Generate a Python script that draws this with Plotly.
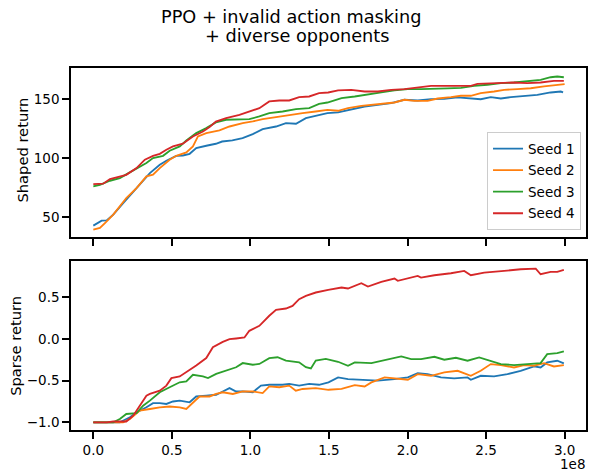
import plotly.graph_objects as go
from plotly.subplots import make_subplots

# Training progress (environment steps, in units of 1e8) and returns per seed
seeds = ["Seed 1", "Seed 2", "Seed 3", "Seed 4"]
colors = ["#1f77b4", "#ff7f0e", "#2ca02c", "#d62728"]

shaped_x1 = [0, 0.053, 0.085, 0.127, 0.19, 0.275, 0.36, 0.423, 0.465, 0.528, 0.57, 0.613, 0.655, 0.719, 0.78,
             0.82, 0.885, 0.95, 1.015, 1.078, 1.163, 1.226, 1.29, 1.353, 1.415, 1.49, 1.558, 1.642, 1.727, 1.811,
             1.896, 1.98, 2.065, 2.15, 2.234, 2.319, 2.403, 2.466, 2.53, 2.594, 2.657, 2.742, 2.826, 2.911, 2.975,
             2.99]
shaped_y1 = [42.9, 47.1, 47.4, 52.2, 62.0, 74.7, 87.4, 94.4, 97.8, 102.0, 102.3, 103.7, 108.5, 110.5, 112.2,
             114.1, 115.0, 117.0, 120.4, 124.6, 126.8, 129.7, 129.1, 133.9, 135.9, 138.1, 138.7, 141.5, 143.7,
             145.1, 146.6, 149.4, 148.8, 149.9, 150.2, 151.4, 150.8, 149.9, 151.6, 150.5, 151.6, 152.8, 153.6,
             155.6, 156.4, 155.6]

shaped_x2 = [0, 0.042, 0.074, 0.127, 0.21, 0.275, 0.338, 0.38, 0.423, 0.486, 0.528, 0.592, 0.634, 0.666, 0.719,
             0.803, 0.867, 0.951, 1.015, 1.078, 1.163, 1.247, 1.332, 1.415, 1.49, 1.558, 1.621, 1.706, 1.811,
             1.917, 1.98, 2.044, 2.128, 2.192, 2.276, 2.34, 2.403, 2.466, 2.551, 2.615, 2.699, 2.784, 2.869,
             2.953, 3.0]
shaped_y2 = [39.5, 40.9, 45.1, 52.2, 66.3, 74.7, 84.6, 86.0, 91.6, 98.7, 102.0, 104.9, 109.9, 118.4, 121.2,
             123.5, 126.8, 129.7, 131.1, 133.0, 134.7, 136.7, 138.1, 139.5, 140.9, 140.1, 142.3, 144.3, 146.0,
             147.1, 149.4, 148.5, 148.5, 150.5, 151.6, 152.8, 152.8, 155.0, 156.4, 157.8, 158.4, 159.2, 160.7,
             162.1, 162.6]

shaped_x3 = [0, 0.042, 0.106, 0.169, 0.232, 0.296, 0.338, 0.38, 0.444, 0.486, 0.55, 0.592, 0.655, 0.719, 0.78,
             0.845, 0.93, 0.993, 1.057, 1.12, 1.205, 1.29, 1.374, 1.437, 1.49, 1.58, 1.664, 1.749, 1.833, 1.917,
             2.002, 2.086, 2.17, 2.255, 2.34, 2.424, 2.509, 2.594, 2.678, 2.763, 2.847, 2.911, 2.953, 2.995]
shaped_y3 = [76.1, 77.5, 80.9, 83.2, 88.0, 93.0, 95.9, 100.1, 102.0, 106.3, 109.9, 115.0, 121.2, 125.4, 130.2,
             132.5, 132.5, 133.0, 135.3, 138.1, 139.5, 141.5, 142.3, 146.0, 147.1, 150.8, 152.2, 153.6, 155.6,
             157.3, 158.4, 158.4, 158.4, 159.0, 159.5, 161.2, 162.1, 163.5, 164.0, 165.2, 166.3, 168.5, 169.1,
             168.5]

shaped_x4 = [0, 0.063, 0.106, 0.169, 0.21, 0.275, 0.328, 0.38, 0.423, 0.465, 0.507, 0.57, 0.634, 0.698, 0.74,
             0.78, 0.845, 0.93, 0.993, 1.057, 1.12, 1.184, 1.247, 1.31, 1.374, 1.437, 1.495, 1.558, 1.642, 1.727,
             1.811, 1.896, 1.98, 2.065, 2.15, 2.234, 2.319, 2.403, 2.445, 2.53, 2.615, 2.678, 2.763, 2.847,
             2.932, 2.995]
shaped_y4 = [78.1, 78.4, 82.3, 84.6, 85.9, 91.6, 98.7, 102.0, 103.7, 107.1, 109.9, 112.2, 118.4, 122.6, 126.3,
             131.0, 133.9, 136.7, 139.5, 142.3, 148.0, 148.8, 148.8, 151.6, 152.2, 155.0, 155.6, 157.3, 157.8,
             156.4, 156.4, 157.8, 158.4, 160.1, 161.2, 161.2, 161.2, 161.2, 162.9, 163.5, 163.5, 164.0, 163.5,
             164.0, 165.4, 165.4]

sparse_x1 = [0, 0.169, 0.233, 0.275, 0.338, 0.38, 0.423, 0.465, 0.507, 0.55, 0.613, 0.655, 0.719, 0.782, 0.824,
             0.867, 0.909, 0.951, 1.015, 1.067, 1.12, 1.205, 1.247, 1.31, 1.374, 1.437, 1.497, 1.558, 1.621,
             1.706, 1.811, 1.917, 2.002, 2.065, 2.128, 2.213, 2.297, 2.382, 2.403, 2.466, 2.551, 2.636, 2.72,
             2.805, 2.847, 2.889, 2.953, 2.995]
sparse_y1 = [-1.0, -1.0, -0.94, -0.88, -0.82, -0.77, -0.77, -0.78, -0.75, -0.74, -0.76, -0.69, -0.68, -0.67,
             -0.63, -0.59, -0.63, -0.63, -0.64, -0.56, -0.55, -0.55, -0.54, -0.56, -0.54, -0.55, -0.52, -0.462,
             -0.482, -0.49, -0.50, -0.482, -0.462, -0.41, -0.422, -0.462, -0.474, -0.462, -0.49, -0.442, -0.45,
             -0.422, -0.382, -0.33, -0.342, -0.282, -0.262, -0.294]

sparse_x2 = [0, 0.19, 0.233, 0.296, 0.36, 0.423, 0.486, 0.55, 0.592, 0.634, 0.676, 0.74, 0.782, 0.824, 0.888,
             0.951, 1.015, 1.078, 1.12, 1.184, 1.247, 1.289, 1.332, 1.416, 1.497, 1.58, 1.664, 1.727, 1.77,
             1.854, 1.917, 2.002, 2.065, 2.15, 2.234, 2.319, 2.403, 2.466, 2.53, 2.594, 2.678, 2.742, 2.805,
             2.869, 2.932, 2.995]
sparse_y2 = [-1.0, -1.0, -0.96, -0.86, -0.84, -0.82, -0.81, -0.82, -0.84, -0.76, -0.69, -0.69, -0.66, -0.64,
             -0.66, -0.63, -0.63, -0.65, -0.57, -0.58, -0.56, -0.62, -0.60, -0.59, -0.61, -0.60, -0.554, -0.57,
             -0.522, -0.462, -0.474, -0.49, -0.422, -0.442, -0.402, -0.382, -0.442, -0.382, -0.302, -0.314,
             -0.342, -0.314, -0.322, -0.29, -0.33, -0.314]

sparse_x3 = [0, 0.127, 0.169, 0.21, 0.275, 0.317, 0.36, 0.423, 0.486, 0.55, 0.592, 0.634, 0.698, 0.73, 0.782,
             0.845, 0.909, 0.951, 1.015, 1.057, 1.12, 1.173, 1.226, 1.31, 1.353, 1.385, 1.416, 1.48, 1.558,
             1.621, 1.664, 1.77, 1.875, 1.96, 2.023, 2.086, 2.171, 2.234, 2.308, 2.382, 2.456, 2.53, 2.594,
             2.678, 2.763, 2.847, 2.889, 2.953, 2.995]
sparse_y3 = [-1.0, -1.0, -0.96, -0.90, -0.89, -0.80, -0.74, -0.64, -0.58, -0.52, -0.51, -0.43, -0.45, -0.47,
             -0.42, -0.38, -0.34, -0.29, -0.31, -0.30, -0.23, -0.22, -0.26, -0.28, -0.34, -0.354, -0.26, -0.24,
             -0.274, -0.322, -0.282, -0.29, -0.242, -0.21, -0.242, -0.242, -0.214, -0.25, -0.226, -0.262,
             -0.222, -0.262, -0.302, -0.314, -0.302, -0.29, -0.182, -0.17, -0.15]

sparse_x4 = [0, 0.085, 0.127, 0.21, 0.254, 0.296, 0.338, 0.36, 0.423, 0.465, 0.497, 0.55, 0.592, 0.655, 0.719,
             0.761, 0.824, 0.867, 0.909, 0.962, 0.993, 1.057, 1.12, 1.163, 1.226, 1.268, 1.31, 1.353, 1.416,
             1.458, 1.495, 1.58, 1.621, 1.706, 1.748, 1.833, 1.917, 1.938, 2.023, 2.065, 2.086, 2.171, 2.276,
             2.361, 2.403, 2.488, 2.615, 2.72, 2.816, 2.847, 2.911, 2.953, 2.995]
sparse_y4 = [-1.0, -1.0, -0.99, -0.99, -0.92, -0.80, -0.68, -0.66, -0.62, -0.56, -0.47, -0.45, -0.40, -0.32,
             -0.23, -0.10, -0.035, -0.003, 0.005, 0.017, 0.097, 0.157, 0.277, 0.348, 0.364, 0.396, 0.476, 0.516,
             0.556, 0.576, 0.588, 0.616, 0.604, 0.668, 0.628, 0.684, 0.723, 0.696, 0.735, 0.755, 0.735, 0.763,
             0.787, 0.815, 0.763, 0.795, 0.815, 0.835, 0.843, 0.775, 0.803, 0.803, 0.827]

x_ticks = [0.0, 0.5, 1.0, 1.5, 2.0, 2.5, 3.0]
x_tick_labels = ["0.0", "0.5", "1.0", "1.5", "2.0", "2.5", "3.0"]
shaped_ticks = [50, 100, 150]
sparse_ticks = [-1.0, -0.5, 0.0, 0.5]

SCALE = 1e8
FONT = "DejaVu Sans"

# Pixel geometry of the two panels inside the 590x475 canvas
LEFT, RIGHT, TOP, BOTTOM = 71, 588, 67.5, 430
PANEL_H = BOTTOM - TOP
PANEL_W = RIGHT - LEFT


def py(pixel_y):
    """Paper y coordinate for a pixel row measured from the canvas top."""
    return (BOTTOM - pixel_y) / PANEL_H


def px(pixel_x):
    return (pixel_x - LEFT) / PANEL_W


shaped = [(shaped_x1, shaped_y1), (shaped_x2, shaped_y2), (shaped_x3, shaped_y3), (shaped_x4, shaped_y4)]
sparse = [(sparse_x1, sparse_y1), (sparse_x2, sparse_y2), (sparse_x3, sparse_y3), (sparse_x4, sparse_y4)]

fig = make_subplots(rows=2, cols=1)

for i, (name, color) in enumerate(zip(seeds, colors)):
    xs, ys = shaped[i]
    fig.add_trace(go.Scatter(x=[v * SCALE for v in xs], y=ys, mode="lines", name=name,
                             legendgroup=name, line=dict(color=color, width=1.85)), row=1, col=1)
for i, (name, color) in enumerate(zip(seeds, colors)):
    xs, ys = sparse[i]
    fig.add_trace(go.Scatter(x=[v * SCALE for v in xs], y=ys, mode="lines", name=name,
                             legendgroup=name, showlegend=False,
                             line=dict(color=color, width=1.85)), row=2, col=1)

axis_style = dict(showline=True, linecolor="black", linewidth=1.5, mirror=True,
                  ticks="outside", ticklen=7, tickwidth=1.5, tickcolor="black",
                  showgrid=False, zeroline=False,
                  tickfont=dict(family=FONT, size=13.5, color="black"))

x_range = [-0.142 * SCALE, 3.136 * SCALE]
fig.update_xaxes(**axis_style, range=x_range, tickvals=[v * SCALE for v in x_ticks])
fig.update_xaxes(showticklabels=False, row=1, col=1)
fig.update_xaxes(ticktext=x_tick_labels, row=2, col=1)

fig.update_yaxes(**axis_style)
fig.update_yaxes(range=[33.5, 176.3], tickvals=shaped_ticks, domain=[py(236.5), 1.0], row=1, col=1)
fig.update_yaxes(range=[-1.092, 0.931], tickvals=sparse_ticks, tickformat=".1f",
                 domain=[0.0, py(261)], row=2, col=1)

title_font = dict(family=FONT, size=17.7, color="black")
label_font = dict(family=FONT, size=14.7, color="black")

fig.update_layout(
    width=590, height=475,
    margin=dict(l=LEFT, r=590 - RIGHT, t=TOP, b=475 - BOTTOM),
    plot_bgcolor="white", paper_bgcolor="white",
    font=dict(family=FONT, color="black"),
    showlegend=True,
    legend=dict(x=px(583), y=py(230), xanchor="right", yanchor="bottom",
                bgcolor="rgba(255,255,255,0.8)", bordercolor="#cccccc", borderwidth=1,
                font=dict(family=FONT, size=13.5, color="black"),
                tracegroupgap=1, traceorder="grouped"),
    annotations=[
        dict(text="PPO + invalid action masking", xref="paper", yref="paper",
             x=px(292), y=py(16.5), xanchor="center", yanchor="middle",
             showarrow=False, font=title_font),
        dict(text="+ diverse opponents", xref="paper", yref="paper",
             x=px(298), y=py(35.5), xanchor="center", yanchor="middle",
             showarrow=False, font=title_font),
        dict(text="Shaped return", xref="paper", yref="paper", textangle=-90,
             x=px(22), y=py(150), xanchor="center", yanchor="middle",
             showarrow=False, font=label_font),
        dict(text="Sparse return", xref="paper", yref="paper", textangle=-90,
             x=px(15), y=py(345.5), xanchor="center", yanchor="middle",
             showarrow=False, font=label_font),
        dict(text="1e8", xref="paper", yref="paper", x=px(589), y=py(464),
             xanchor="right", yanchor="middle", showarrow=False,
             font=dict(family=FONT, size=13.5, color="black")),
    ],
)

fig.write_html("out.html")
